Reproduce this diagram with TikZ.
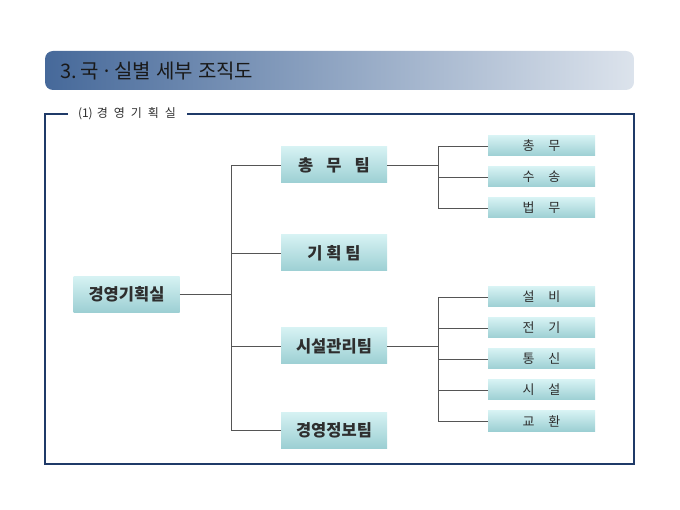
\documentclass[tikz,border=0pt]{standalone}
\usepackage{fontspec}
\setmainfont{Noto Sans CJK KR}
\definecolor{hdrL}{HTML}{46699A}
\definecolor{hdrM}{HTML}{A9B9CE}
\definecolor{hdrR}{HTML}{DCE3EC}
\definecolor{boxT}{HTML}{D6F2F3}
\definecolor{boxB}{HTML}{9CCFD3}
\definecolor{frameC}{HTML}{1F3A68}
\definecolor{lineC}{HTML}{555555}
\definecolor{txtC}{HTML}{2E2E2E}
\begin{document}
\begin{tikzpicture}[x=1pt,y=-1pt,
  team/.style={top color=boxT, bottom color=boxB, minimum width=106pt, minimum height=36pt, inner sep=0pt, text=txtC, font=\fontsize{16.5}{16.5}\selectfont\bfseries},
  unit/.style={top color=boxT, bottom color=boxB, minimum width=107pt, minimum height=20pt, inner sep=0pt, text=txtC, font=\fontsize{13}{13}\selectfont},
  link/.style={draw=lineC, line width=0.9pt},
  framebox/.style={draw=frameC, line width=1.8pt}]
\useasboundingbox (0,0) rectangle (680,510);
% header
\shade[rounded corners=8pt, left color=hdrL, middle color=hdrM, right color=hdrR] (45,51) rectangle (634,90);
\node[anchor=west, inner sep=0pt, text=black!90, font=\fontsize{20}{20}\selectfont] (title) at (60,71) {3.\hspace{4pt}국\hspace{2pt}·\hspace{2pt}실별\hspace{5pt}세부\hspace{5pt}조직도};
% frame
\draw[framebox] (68,114) -- (45,114) -- (45,464) -- (634,464) -- (634,114) -- (187,114);
\node[anchor=center, text=txtC, font=\fontsize{12}{12}\selectfont] (flabel) at (127,114) {(1)\hspace{4pt}경\hspace{6pt}영\hspace{6pt}기\hspace{6pt}획\hspace{6pt}실};
% nodes
\node[team] (root) at (126.5,294.5) {경영기획실};
\node[team] (t1) at (334,165) {총\hspace{13pt}무\hspace{13pt}팀};
\node[team] (t2) at (334,253) {기 획 팀};
\node[team] (t3) at (334,346) {시설관리팀};
\node[team] (t4) at (334,430) {경영정보팀};
\node[unit] (s1) at (541.5,146) {총\hspace{14pt}무};
\node[unit] (s2) at (541.5,177) {수\hspace{14pt}송};
\node[unit] (s3) at (541.5,208) {법\hspace{14pt}무};
\node[unit] (s4) at (541.5,297) {설\hspace{14pt}비};
\node[unit] (s5) at (541.5,328) {전\hspace{14pt}기};
\node[unit] (s6) at (541.5,359) {통\hspace{14pt}신};
\node[unit] (s7) at (541.5,390) {시\hspace{14pt}설};
\node[unit] (s8) at (541.5,421) {교\hspace{14pt}환};
% buses
\coordinate (busA) at (231,0);
\coordinate (busB) at (438,0);
\draw[link] (root.east) -- (root.east -| busA);
\draw[link] (t1.west) -- (t1.west -| busA) -- (t4.west -| busA) -- (t4.west);
\draw[link] (t2.west) -- (t2.west -| busA);
\draw[link] (t3.west) -- (t3.west -| busA);
\draw[link] (t1.east) -- (t1.east -| busB);
\draw[link] (s1.west) -- (s1.west -| busB) -- (s3.west -| busB) -- (s3.west);
\draw[link] (s2.west) -- (s2.west -| busB);
\draw[link] (t3.east) -- (t3.east -| busB);
\draw[link] (s4.west) -- (s4.west -| busB) -- (s8.west -| busB) -- (s8.west);
\draw[link] (s5.west) -- (s5.west -| busB);
\draw[link] (s6.west) -- (s6.west -| busB);
\draw[link] (s7.west) -- (s7.west -| busB);
\end{tikzpicture}
\end{document}
